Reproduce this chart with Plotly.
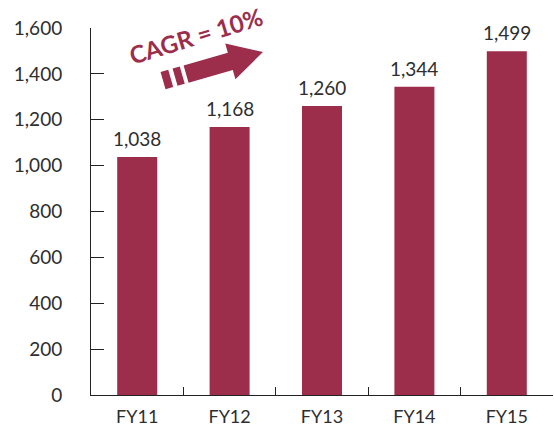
import math
import plotly.graph_objects as go

categories = ["FY11", "FY12", "FY13", "FY14", "FY15"]
values = [1038, 1168, 1260, 1344, 1499]
value_labels = ["1,038", "1,168", "1,260", "1,344", "1,499"]
y_ticks = [0, 200, 400, 600, 800, 1000, 1200, 1400, 1600]
y_tick_labels = ["0", "200", "400", "600", "800", "1,000", "1,200", "1,400", "1,600"]
cagr_text = "CAGR = 10%"

BAR = "#9C2D4B"
TXT = "#2e2e2e"
FONT = "Lato"

W, H = 554, 428
ML, MR, MT, MB = 91, 1, 28, 33
PW, PH = W - ML - MR, H - MT - MB


def to_paper(px, py):
    return ((px - ML) / PW, (H - MB - py) / PH)


# arrow decoration (pixel geometry, local frame: u along arrow, v across)
tip = (263, 52)
ang = math.radians(16)
d = (math.cos(ang), -math.sin(ang))
n = (math.sin(ang), math.cos(ang))


def pt(u, v):
    px = tip[0] + u * d[0] + v * n[0]
    py = tip[1] + u * d[1] + v * n[1]
    return to_paper(px, py)


def poly(pts):
    ps = [pt(u, v) for u, v in pts]
    return "M " + " L ".join(f"{x:.5f},{y:.5f}" for x, y in ps) + " Z"


bw = 9
hw = 18.5
body = [(-80, -bw), (-34, -bw), (-34, -hw), (0, 0), (-34, hw), (-34, bw), (-80, bw)]
s2 = [(-91.5, -bw), (-84, -bw), (-84, bw), (-91.5, bw)]
s1 = [(-104, -bw), (-96, -bw), (-96, bw), (-104, bw)]

fig = go.Figure()
fig.add_trace(go.Bar(x=categories, y=values, marker=dict(color=BAR, line=dict(width=0)),
                     hoverinfo="skip"))

annotations = []
for c, v, t in zip(categories, values, value_labels):
    annotations.append(dict(x=c, y=v, text=t, showarrow=False, yanchor="bottom",
                            yshift=5, font=dict(family=FONT, size=19, color=TXT)))
cx, cy = to_paper(196, 36)
annotations.append(dict(x=cx, y=cy, xref="paper", yref="paper", text=f"<b>{cagr_text}</b>",
                        showarrow=False, textangle=-17, xanchor="center", yanchor="middle",
                        font=dict(family=FONT, size=24, color=BAR)))

shapes = []
for p in (body, s1, s2):
    shapes.append(dict(type="path", xref="paper", yref="paper", path=poly(p),
                       fillcolor=BAR, line=dict(width=0), layer="above"))

fig.update_layout(
    width=W, height=H,
    margin=dict(l=ML, r=MR, t=MT, b=MB, pad=0, autoexpand=False),
    paper_bgcolor="white", plot_bgcolor="white",
    showlegend=False,
    bargap=0.567,
    font=dict(family=FONT, size=19, color=TXT),
    annotations=annotations,
    shapes=shapes,
    xaxis=dict(type="category", range=[-0.5, 4.5], showline=True, linecolor="#222",
               linewidth=1, ticks="inside", ticklen=8, tickcolor="#222", tickwidth=1,
               tickson="boundaries", showgrid=False, zeroline=False, automargin=False,
               tickfont=dict(family=FONT, size=18, color=TXT), ticklabelstandoff=5),
    yaxis=dict(range=[0, 1600], tickvals=y_ticks, ticktext=y_tick_labels,
               showline=True, linecolor="#222", linewidth=1, ticks="inside",
               ticklen=13, tickcolor="#222", tickwidth=1, showgrid=False, automargin=False,
               zeroline=False, tickfont=dict(family=FONT, size=19, color=TXT),
               ticklabelstandoff=24),
)

fig.write_html("out.html", config={"displayModeBar": False},
               post_script="document.body.style.margin='0';document.body.style.overflow='hidden';")
